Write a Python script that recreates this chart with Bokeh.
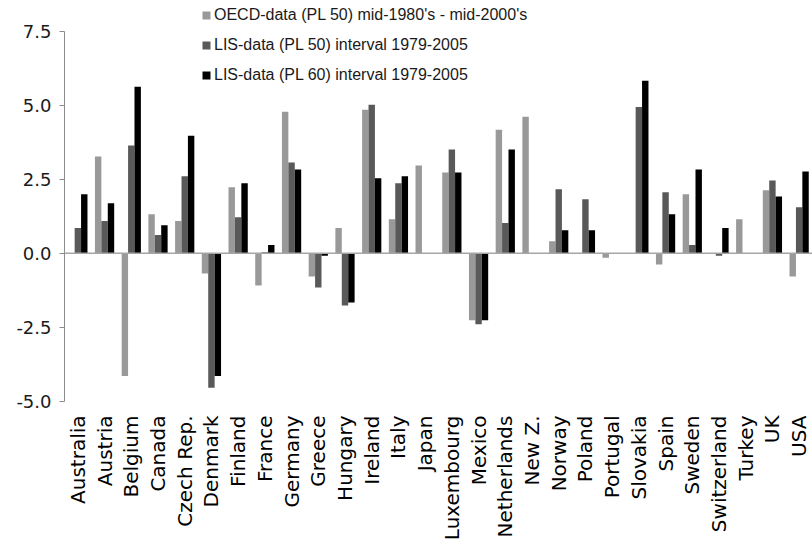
import math
from bokeh.plotting import figure
from bokeh.models import (FactorRange, Range1d, FixedTicker, Span, Legend, LegendItem,
                          ColumnDataSource, NumeralTickFormatter)
from bokeh.transform import dodge
from bokeh.embed import file_html
from bokeh.resources import INLINE

countries = ["Australia", "Austria", "Belgium", "Canada", "Czech Rep.", "Denmark", "Finland",
             "France", "Germany", "Greece", "Hungary", "Ireland", "Italy", "Japan",
             "Luxembourg", "Mexico", "Netherlands", "New Z.", "Norway", "Poland", "Portugal",
             "Slovakia", "Spain", "Sweden", "Switzerland", "Turkey", "UK", "USA"]

oecd_pl50 = [None, 3.27, -4.14, 1.32, 1.09, -0.68, 2.23, -1.09, 4.78, -0.78, 0.85, 4.84, 1.15, 2.96,
             2.73, -2.26, 4.17, 4.61, 0.41, None, -0.15, None, -0.38, 1.99, None, 1.15, 2.13, -0.78]
lis_pl50 = [0.85, 1.09, 3.64, 0.62, 2.60, -4.54, 1.22, 0.04, 3.06, -1.15, -1.76, 5.01, 2.36, None,
            3.50, -2.39, 1.02, None, 2.16, 1.82, None, 4.94, 2.06, 0.28, -0.08, None, 2.46, 1.55]
lis_pl60 = [1.99, 1.69, 5.62, 0.95, 3.97, -4.14, 2.36, 0.28, 2.83, -0.08, -1.66, 2.53, 2.60, None,
            2.73, -2.26, 3.50, None, 0.78, 0.78, None, 5.82, 1.32, 2.83, 0.85, None, 1.92, 2.76]

series_labels = ["OECD-data (PL 50) mid-1980's - mid-2000's",
                 "LIS-data (PL 50) interval 1979-2005",
                 "LIS-data (PL 60) interval 1979-2005"]
series_colors = ["#999999", "#595959", "#000000"]
y_ticks = [-5, -2.5, 0, 2.5, 5, 7.5]

p = figure(width=812, height=547, x_range=FactorRange(factors=countries, range_padding=0),
           y_range=Range1d(-5, 8.53), output_backend="svg", toolbar_location=None,
           min_border_left=64, min_border_right=0, min_border_top=0, min_border_bottom=146)
p.outline_line_color = None
p.xgrid.visible = False
p.ygrid.visible = False

offsets = [-0.24, 0.0, 0.24]
items = []
for vals, lab, col, off in zip([oecd_pl50, lis_pl50, lis_pl60], series_labels, series_colors, offsets):
    xs = [c for c, v in zip(countries, vals) if v is not None]
    ys = [v for v in vals if v is not None]
    src = ColumnDataSource(dict(country=xs, val=ys))
    r = p.vbar(x=dodge("country", off, range=p.x_range), top="val", bottom=0, width=0.24,
               source=src, fill_color=col, line_color=None)
    items.append(LegendItem(label=lab, renderers=[r]))

p.add_layout(Span(location=0, dimension="width", line_color="#a6a6a6", line_width=1.5))

legend = Legend(items=items, location=(137, 317), orientation="vertical",
                glyph_width=10, glyph_height=10, label_height=18, spacing=12,
                label_standoff=3, padding=0, margin=0,
                label_text_font="Liberation Sans", label_text_font_size="16px",
                label_text_color="#1a1a1a",
                background_fill_alpha=0, border_line_color=None)
p.add_layout(legend)

ya = p.yaxis[0]
ya.ticker = FixedTicker(ticks=y_ticks)
ya.formatter = NumeralTickFormatter(format="0.0")
ya.bounds = (-5, 7.5)
ya.axis_line_color = "#8c8c8c"
ya.major_tick_line_color = "#8c8c8c"
ya.major_tick_out = 5
ya.major_tick_in = 0
ya.minor_tick_line_color = None
ya.major_label_text_font = "DejaVu Sans"
ya.major_label_text_font_size = "18px"
ya.major_label_text_color = "#1a1a1a"
ya.major_label_standoff = 8

xa = p.xaxis[0]
xa.axis_line_color = None
xa.major_tick_line_color = None
xa.major_tick_out = 0
xa.major_tick_in = 0
xa.minor_tick_line_color = None
xa.major_label_orientation = math.pi / 2
xa.major_label_text_font = "DejaVu Sans"
xa.major_label_text_font_size = "20px"
xa.major_label_text_color = "#000000"
xa.major_label_standoff = 14

open("out.html", "w").write(file_html(p, INLINE))
